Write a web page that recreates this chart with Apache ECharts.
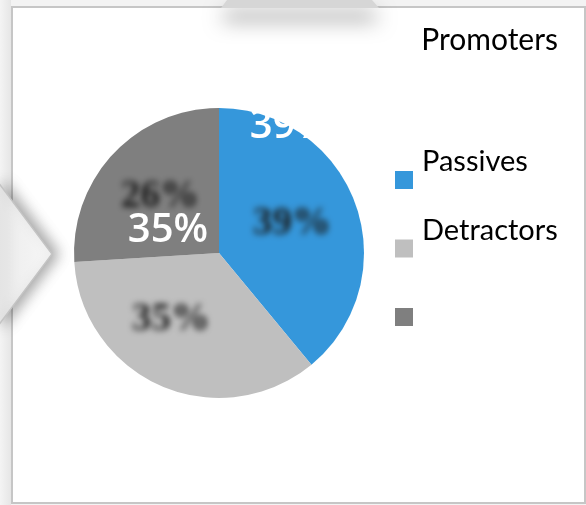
<!DOCTYPE html>
<html>
<head>
<meta charset="utf-8">
<script src="https://cdn.jsdelivr.net/npm/echarts@6/dist/echarts.min.js"></script>
<style>
html,body{margin:0;padding:0;background:#fff;}
#chart{width:586px;height:505px;}
</style>
</head>
<body>
<div id="chart"></div>
<script>
// ---- data ----
const categories = ['Promoters', 'Passives', 'Detractors'];
const values = [39, 35, 26];
const sliceColors = ['#3597db', '#bfbfbf', '#7f7f7f'];
// legend texts as they appear next to each marker (shifted by one in the source)
const legendTexts = ['Passives', 'Detractors', ''];
const titleText = 'Promoters';
// overlay (white) label text for each slice; '' = not visible
const overlayLabels = ['39%', '', '35%'];

const chart = echarts.init(document.getElementById('chart'), null, {renderer: 'canvas'});

const pieData = categories.map((c, i) => ({name: c, value: values[i], itemStyle: {color: sliceColors[i]}}));
const overlayData = categories.map((c, i) => ({name: c + ' ', value: values[i]}));

const FAR = 1500; // blurred labels: text drawn off-canvas, only its blurred shadow lands on the slice

const option = {
  animation: false,
  backgroundColor: '#ffffff',
  title: {
    text: titleText,
    right: 23, top: 20,
    textStyle: {fontFamily: 'Lato', fontSize: 30, fontWeight: 'normal', color: '#000'}
  },
  legend: {
    orient: 'vertical',
    left: 390, top: 139,
    itemWidth: 18, itemHeight: 18,
    itemGap: -3.5,
    icon: 'rect',
    data: categories,
    selectedMode: false,
    formatter: function (name) { return legendTexts[categories.indexOf(name)] + '\n '; },
    textStyle: {fontFamily: 'Lato', fontSize: 29, color: '#000', lineHeight: 36, padding: [0, 0, 0, 4]}
  },
  graphic: [
    {type: 'rect', z: -10, shape: {x: 0, y: 0, width: 586, height: 505}, style: {fill: '#f3f3f3'}},
    {type: 'rect', z: -10, shape: {x: 0, y: 0, width: 11, height: 505},
      style: {fill: new echarts.graphic.LinearGradient(0, 0, 1, 0, [{offset: 0, color: '#f4f4f4'}, {offset: 1, color: '#e6e6e6'}])}},
    {type: 'rect', z: -9, shape: {x: 12, y: 7, width: 573, height: 496},
      style: {fill: '#ffffff', stroke: '#c6c6c6', lineWidth: 2}},
    {type: 'polygon', z: -8, shape: {points: [[227, 0], [372, 0], [379, 8], [221, 8]]},
      style: {fill: '#d6d6d6', shadowBlur: 20, shadowOffsetY: 12, shadowColor: 'rgba(0,0,0,0.45)'}},
    {type: 'polygon', z: -8, shape: {points: [[-2, 182], [52, 254], [-2, 326]]},
      style: {fill: new echarts.graphic.LinearGradient(0, 0, 1, 0, [{offset: 0, color: '#ebebeb'}, {offset: 1, color: '#f7f7f7'}]),
        stroke: '#c4c4c4', lineWidth: 1.5, shadowBlur: 14, shadowOffsetX: 6, shadowColor: 'rgba(0,0,0,0.35)'}}
  ],
  series: [
    {
      type: 'pie',
      center: [219, 253],
      radius: 145,
      startAngle: 90,
      clockwise: true,
      silent: true,
      data: pieData,
      labelLine: {show: false},
      label: {
        show: true,
        position: 'inside',
        formatter: '{d}%',
        fontFamily: 'Liberation Serif',
        fontWeight: 'bold',
        fontSize: 39,
        color: '#222222',
        textShadowColor: 'rgba(25,25,25,1)',
        textShadowBlur: 6,
        textShadowOffsetX: FAR
      },
      labelLayout: function (p) {
        const shift = [[2, -4], [-18, -2], [-4, -4]];
        const s = shift[p.dataIndex];
        return {dx: s[0] - FAR, dy: s[1]};
      }
    },
    {
      type: 'pie',
      center: [219, 253],
      radius: 145,
      startAngle: 90,
      clockwise: true,
      silent: true,
      z: 5,
      itemStyle: {color: 'rgba(0,0,0,0)'},
      labelLine: {show: false},
      data: overlayData,
      label: {
        show: true,
        position: 'inside',
        formatter: function (p) { return overlayLabels[p.dataIndex]; },
        fontFamily: 'Open Sans',
        fontWeight: 600,
        fontSize: 40,
        color: '#ffffff'
      },
      labelLayout: function (p) {
        const targets = [[290, 127], null, [168, 231]];
        const t = targets[p.dataIndex];
        if (!t) return {};
        return {x: t[0], y: t[1], align: 'center', verticalAlign: 'middle'};
      }
    }
  ]
};
chart.setOption(option);
</script>
</body>
</html>
